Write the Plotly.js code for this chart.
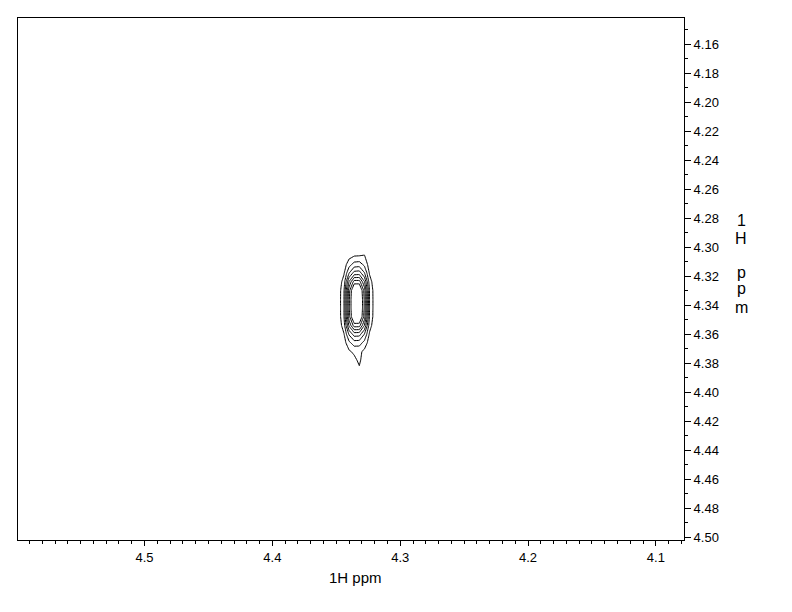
<!DOCTYPE html>
<html>
<head>
<meta charset="utf-8">
<script src="https://cdn.plot.ly/plotly-3.0.1.min.js"></script>
<style>html,body{margin:0;padding:0;background:#fff;}#chart{width:792px;height:612px;}</style>
</head>
<body>
<div id="chart"></div>
<script>
// F2 axis (horizontal), 1H ppm
const xPpm = [4.352, 4.348, 4.344, 4.340, 4.336, 4.332, 4.328, 4.324, 4.320, 4.316];
// F1 axis (vertical), 1H ppm
const yPpm = [4.300, 4.306, 4.312, 4.318, 4.324, 4.330, 4.336, 4.342, 4.348, 4.354, 4.360, 4.366, 4.372, 4.378, 4.384];
// intensity (rows follow yPpm, columns follow xPpm)
const intensity = [
  [0.00, 0.02, 0.08, 0.28, 0.45, 0.55, 0.45, 0.12, 0.03, 0.00],
  [0.01, 0.05, 0.18, 0.65, 0.95, 1.00, 1.05, 0.30, 0.07, 0.01],
  [0.03, 0.13, 0.48, 1.60, 2.40, 2.50, 1.75, 0.52, 0.13, 0.03],
  [0.05, 0.23, 0.90, 3.00, 4.45, 4.55, 3.10, 0.90, 0.23, 0.05],
  [0.08, 0.38, 1.50, 5.10, 7.50, 7.50, 5.10, 1.50, 0.38, 0.08],
  [0.10, 0.49, 1.94, 6.60, 9.70, 9.70, 6.60, 1.94, 0.49, 0.10],
  [0.10, 0.50, 2.00, 6.80, 10.0, 10.0, 6.80, 2.00, 0.50, 0.10],
  [0.10, 0.50, 2.00, 6.80, 10.0, 10.0, 6.80, 2.00, 0.50, 0.10],
  [0.10, 0.50, 1.96, 6.62, 9.70, 9.70, 6.55, 1.92, 0.48, 0.10],
  [0.08, 0.40, 1.55, 5.20, 7.50, 7.45, 5.00, 1.45, 0.36, 0.08],
  [0.05, 0.25, 0.95, 3.15, 4.50, 4.45, 3.00, 0.86, 0.22, 0.05],
  [0.03, 0.14, 0.55, 1.75, 2.50, 2.45, 1.65, 0.48, 0.12, 0.03],
  [0.01, 0.07, 0.28, 0.85, 1.22, 1.25, 0.75, 0.22, 0.05, 0.01],
  [0.00, 0.02, 0.09, 0.32, 0.70, 1.25, 0.32, 0.10, 0.02, 0.00],
  [0.00, 0.01, 0.04, 0.10, 0.30, 0.85, 0.10, 0.04, 0.01, 0.00]
];
const xRange = [4.599, 4.078];
const yRange = [4.502, 4.142];
const xTitleText = '1H ppm';
const yTitleChars = ['1', 'H', 'p', 'p', 'm'];

const W = 792, H = 612, L = 18, R = 108, T = 18, B = 72;
const pw = W - L - R, ph = H - T - B;
function px2x(p) { return (p - L) / pw; }
function py2y(p) { return (H - B - p) / ph; }

const trace = {
  type: 'contour',
  x: xPpm, y: yPpm, z: intensity,
  contours: {coloring: 'lines', start: 1, end: 8, size: 1},
  colorscale: [[0, '#000'], [1, '#000']],
  line: {width: 1, smoothing: 0},
  showscale: false,
  hoverinfo: 'skip'
};

const tickFont = {family: 'Liberation Sans, Arial, sans-serif', size: 13, color: '#000'};
const yCharPos = [220, 238, 272, 289, 307];
const annotations = [{
  xref: 'paper', yref: 'paper', x: px2x(355), y: py2y(577),
  text: xTitleText, showarrow: false,
  font: {family: 'Liberation Sans, Arial, sans-serif', size: 15, color: '#000'},
  xanchor: 'center', yanchor: 'middle'
}];
yTitleChars.forEach((c, i) => annotations.push({
  xref: 'paper', yref: 'paper', x: px2x(741), y: py2y(yCharPos[i]),
  text: c, showarrow: false,
  font: {family: 'Liberation Sans, Arial, sans-serif', size: 16, color: '#000'},
  xanchor: 'center', yanchor: 'middle'
}));

const layout = {
  width: W, height: H,
  margin: {l: L, r: R, t: T, b: B, pad: 0},
  paper_bgcolor: '#fff', plot_bgcolor: '#fff',
  showlegend: false,
  xaxis: {
    range: xRange, showgrid: false, zeroline: false,
    showline: true, linecolor: '#000', linewidth: 1, mirror: true,
    ticks: 'outside', ticklen: 5, tickcolor: '#000', tickwidth: 1,
    tick0: 0, dtick: 0.1, tickformat: '.1f', tickfont: tickFont,
    minor: {dtick: 0.01, tick0: 0, ticks: 'outside', ticklen: 3, tickcolor: '#000', showgrid: false}
  },
  yaxis: {
    range: yRange, side: 'right', showgrid: false, zeroline: false,
    showline: true, linecolor: '#000', linewidth: 1, mirror: true,
    ticks: 'outside', ticklen: 6, tickcolor: '#000', tickwidth: 1,
    tick0: 0, dtick: 0.02, tickformat: '.2f', tickfont: tickFont,
    minor: {dtick: 0.01, tick0: 0, ticks: 'outside', ticklen: 3, tickcolor: '#000', showgrid: false}
  },
  annotations: annotations
};

Plotly.newPlot('chart', [trace], layout, {staticPlot: true, displayModeBar: false});
</script>
</body>
</html>
